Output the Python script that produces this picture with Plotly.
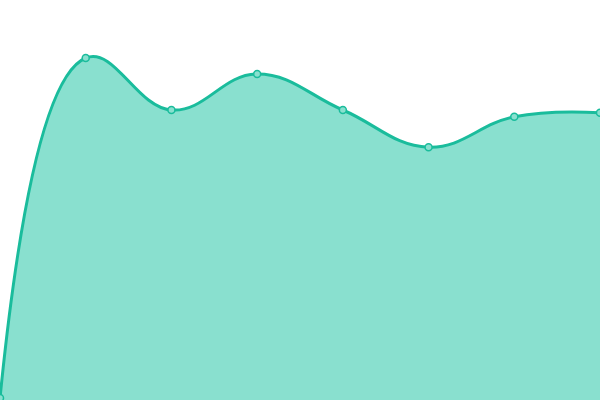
import plotly.graph_objects as go

x_vals = [0, 1, 2, 3, 4, 5, 6, 7]
y_vals = [0.5, 85.5, 72.5, 81.5, 72.5, 63.2, 70.8, 71.8]

fig = go.Figure()
fig.add_trace(go.Scatter(
    x=x_vals, y=y_vals,
    mode="lines+markers",
    fill="tozeroy",
    fillcolor="#89e0cf",
    line=dict(color="#1abc9c", width=3, shape="spline", smoothing=1.2),
    marker=dict(size=7, color="#89e0cf", line=dict(color="#1abc9c", width=1.5)),
    cliponaxis=False,
    hoverinfo="skip",
))

fig.update_layout(
    width=600, height=400,
    margin=dict(l=0, r=0, t=0, b=0),
    paper_bgcolor="white", plot_bgcolor="white",
    showlegend=False,
    xaxis=dict(range=[0, 7], visible=False, fixedrange=True),
    yaxis=dict(range=[0, 100], visible=False, fixedrange=True),
)

# drop the default body margin so the chart sits at the page corner
fig.write_html("out.html", config={"displayModeBar": False},
               post_script="document.body.style.margin='0';")
